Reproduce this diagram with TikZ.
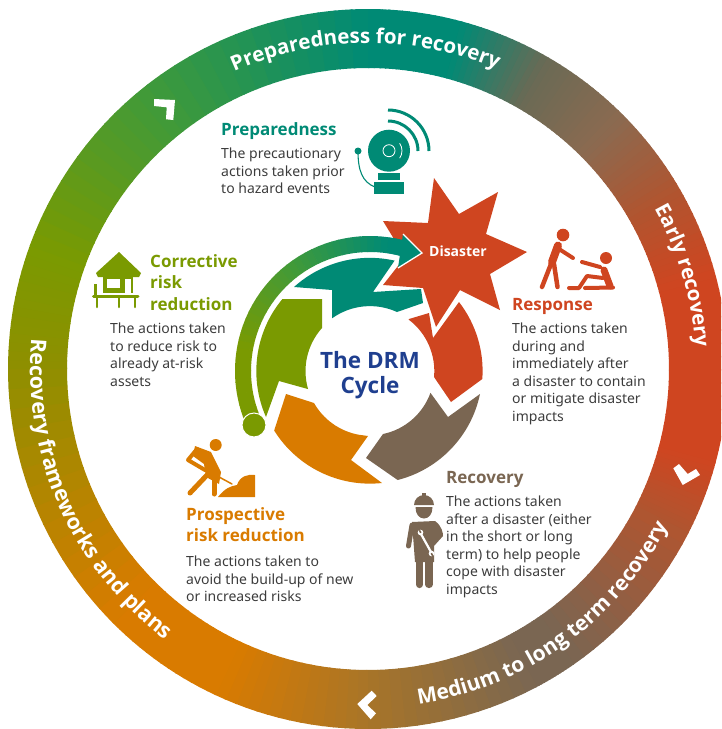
\documentclass[tikz,border=0pt]{standalone}
\usepackage{fontspec}
\setmainfont{Noto Sans}[BoldFont={Open Sans Bold}]
\usetikzlibrary{decorations.text}
\definecolor{cteal}{HTML}{008A75}
\definecolor{colive}{HTML}{7A9A01}
\definecolor{corange}{HTML}{D97B00}
\definecolor{cred}{HTML}{CF4520}
\definecolor{cbrown}{HTML}{7A6652}
\definecolor{cblue}{HTML}{1F3F8F}
\definecolor{cdark}{HTML}{3C3C3C}
\definecolor{cgreen}{HTML}{3F9A3A}
\definecolor{cgold}{HTML}{8F8F00}
\definecolor{crust}{HTML}{B05530}
\definecolor{cmidb}{HTML}{A87528}
\definecolor{cgrey}{HTML}{6A6A55}
\definecolor{cbr}{HTML}{8B6A50}
\newcommand\ringf{\fontsize{20.5}{25}\selectfont\bfseries}
\newcommand\ringg{\fontsize{21}{25}\selectfont\bfseries}
\newcommand\ringh{\fontsize{21.5}{25}\selectfont\bfseries}
\newcommand\Nn{14}
\tikzset{
 body/.style={font=\fontsize{14}{17.5}\selectfont,text=cdark,align=left,inner sep=0pt,anchor=north west,execute at begin node={\rule{0pt}{10pt}}},
 head/.style={font=\fontsize{17}{21.5}\selectfont\bfseries,align=left,inner sep=0pt,anchor=north west,execute at begin node={\rule{0pt}{12pt}}},
 ringtext/.style={decorate,decoration={text along path,text align=center,text color=white,text={#1}}},
 chev/.style={fill=white},
}
\begin{document}
\begin{tikzpicture}[x=1pt,y=-1pt]
\useasboundingbox (0,0) rectangle (721,729);
\clip (0,0) rectangle (721,729);
% ring
\begin{scope}[shift={(368,369)}]
\foreach \sa/\sb/\ca/\cb in {-15/15/cred/cred,15/27/cred/crust,27/55/crust/cbrown,55/62/cbrown/cbrown,62/90/cbrown/cmidb,90/115/cmidb/corange,115/135/corange/corange,135/180/corange/cgold,180/200/cgold/colive,200/232/colive/cgreen,232/270/cgreen/cteal,270/285/cteal/cteal,285/300/cteal/cgrey,300/315/cgrey/cbr,315/330/cbr/crust,330/345/crust/cred}{
 \foreach \t in {0,...,13}{
  \pgfmathsetmacro\s{\sa+(\sb-\sa)*\t/\Nn}
  \pgfmathsetmacro\e{\sa+(\sb-\sa)*(\t+1)/\Nn+0.25}
  \pgfmathsetmacro\p{100*(\t+0.5)/\Nn}
  \fill[color={\cb!\p!\ca}] (\s:360) arc[start angle=\s,end angle=\e,radius=360] -- (\e:301) arc[start angle=\e,end angle=\s,radius=301] -- cycle;
 }
}
\path[ringtext={|\ringf|Preparedness for recovery}] (225:326) arc[start angle=225,end angle=314,radius=326];
\path[ringtext={|\ringf|Early recovery}] (300:328) arc[start angle=300,end angle=387,radius=328];
\path[ringtext={|\ringg|Medium to long term recovery}] (100:339) arc[start angle=100,end angle=9,radius=339];
\path[ringtext={|\ringh|Recovery frameworks and plans}] (210:338) arc[start angle=210,end angle=102,radius=338];
\end{scope}
% chevrons
\fill[chev] (154,99) -- (175,100) -- (173.3,120) -- (166,119.3) -- (166.7,107.3) -- (154,106) -- cycle;
\fill[chev] (673.3,468.3) -- (679,464) -- (687.7,474) -- (696,469) -- (700,475) -- (682.7,485) -- cycle;
\fill[chev] (357.3,704) -- (371.7,690.7) -- (376.7,696) -- (367.3,705) -- (376,713.3) -- (370.7,719.3) -- cycle;
% cycle segments
\fill[colive] (266,417) arc[start angle=156.1,end angle=219.6,radius=113] -- (322,299) -- (322,328) arc[start angle=221.9,end angle=163.8,radius=64.5] -- (279,381) -- cycle;
\fill[corange] (286,394) -- (314,403) arc[start angle=150.3,end angle=100.6,radius=65] -- (368,436) -- (351,460) -- (382,483) arc[start angle=83.9,end angle=148,radius=113] -- cycle;
\fill[cbrown] (366,458) -- (383,434) arc[start angle=78.3,end angle=19.8,radius=64.3] -- (448,417) -- (480,394) arc[start angle=11.8,end angle=75.7,radius=112.5] -- cycle;
\fill[cred] (409,319) -- (429,313) -- (433,338) -- (459,302) arc[start angle=-37.8,end angle=4.1,radius=112.5] -- (451,402) -- (434,377) arc[start angle=5.4,end angle=-53.1,radius=64.3] -- cycle;
\fill[cteal] (294,287) arc[start angle=227.9,end angle=282.7,radius=113] -- (373,292) -- (421,289) -- (423,303) -- (397,312) arc[start angle=294.6,end angle=234.4,radius=64.9] -- (332,290) -- cycle;
% star
\fill[cred] (434,178) -- (459,214) -- (498,192) -- (486,234) -- (527,252) -- (490,274) -- (500,310) -- (460,290) -- (436,327) -- (423,288) -- (383,285) -- (405,257) -- (383,221) -- (428,223) -- cycle;
% outer arrow
\fill[cteal] (403,234) -- (422,253) -- (398,268) -- cycle;
\draw[white,line width=1.3pt] (403,234) -- (422,253) -- (398,268);
\begin{scope}[shift={(370,371)}]
\foreach \sa/\sb/\ca/\cb in {155/190/colive/colive,190/235/colive/cgreen,235/278/cgreen/cteal,278/287/cteal/cteal}{
 \foreach \t in {0,...,13}{
  \pgfmathsetmacro\s{\sa+(\sb-\sa)*\t/\Nn}
  \pgfmathsetmacro\e{\sa+(\sb-\sa)*(\t+1)/\Nn+0.25}
  \pgfmathsetmacro\p{100*(\t+0.5)/\Nn}
  \fill[color={\cb!\p!\ca}] (\s:135) arc[start angle=\s,end angle=\e,radius=135] -- (\e:119) arc[start angle=\e,end angle=\s,radius=119] -- cycle;
 }
}
\end{scope}
\filldraw[colive,draw=white,line width=1pt] (254,425) circle[radius=12];
% bell
\begin{scope}[cteal]
\fill (389,150.7) circle[radius=21];
\draw[white,line width=0.8pt] (389,150.7) circle[radius=6];
\draw[white,line width=0.8pt] (389,150.7) ++(-35:13) arc[start angle=-35,end angle=35,radius=13];
\fill (378,172.5) rectangle (400,180);
\fill (374,182) rectangle (404,194);
\draw[line width=3pt] (388,110) arc[start angle=-90,end angle=0,radius=41];
\draw[line width=3pt] (388,121) arc[start angle=-90,end angle=0,radius=30];
\fill (358,151) circle[radius=3.5];
\draw[line width=1.1pt] (358,151) .. controls (358,170) and (362,182) .. (375,187);
\end{scope}
% hut
\begin{scope}[colive]
\fill (119,252) -- (141,273) -- (139,277) -- (98,277) -- (96,273) -- cycle;
\fill (103,277) rectangle (133,293);
\fill[white] (107,279) rectangle (120,288);
\fill[white] (125,279) rectangle (131,293);
\draw[line width=3pt,line cap=round] (93.5,296.5) -- (138,296.5);
\draw[line width=2.5pt,line cap=round] (97,298) -- (97,307);
\draw[line width=2.5pt,line cap=round] (119,298) -- (119,307);
\draw[line width=2.5pt,line cap=round] (135,298) -- (135,307);
\draw[line width=2.2pt] (95.5,284) -- (95.5,295);
\end{scope}
% digger
\begin{scope}[corange,line cap=round,line join=round]
\fill (215.7,445) circle[radius=6];
\fill (195,446) -- (211,452) -- (221,472) -- (219,484) -- (206,477) -- (204,464) -- (193,456) -- cycle;
\draw[line width=4pt] (197,449) -- (188,460) -- (205,470);
\draw[line width=5pt] (208,474) -- (190,493);
\draw[line width=5pt] (214,476) -- (214,494);
\draw[line width=1.5pt] (208,471) -- (232,484);
\fill (218,497) .. controls (225,488) and (231,486) .. (237,485) .. controls (240,476) and (248,474) .. (255,475) -- (255,497) -- cycle;
\end{scope}
% worker
\begin{scope}[cbrown,line join=round]
\fill (414,505) arc[start angle=180,end angle=360,radius=10] -- cycle;
\fill (422,492.5) rectangle (426,497);
\fill (415.5,507) -- (432.5,507) .. controls (432.5,514) and (429,518.5) .. (424,518.5) .. controls (419,518.5) and (415.5,514) .. (415.5,507) -- cycle;
\fill (412,522) -- (435,521) .. controls (442,526) and (443,533) .. (443,536) -- (434,546) -- (434,562) -- (415,562) -- cycle;
\draw[line width=5pt,line cap=round] (412,525) -- (408.5,546);
\draw[line width=7.2pt,line cap=round] (419.5,555) -- (419.5,584.5);
\draw[line width=7.2pt,line cap=round] (429,555) -- (429,584.5);
\draw[white,line width=2.2pt] (421,534) -- (431,552);
\fill[white] (420.5,532.5) circle[radius=2.8];
\fill[white] (431.5,553.5) circle[radius=2.8];
\draw[line width=1.6pt] (419.4,530.2) -- (420.8,532.8);
\draw[line width=1.6pt] (432.7,555.8) -- (431.3,553.2);
\end{scope}
% rescuers
\begin{scope}[cred,line cap=round,line join=round]
\fill (563,235) circle[radius=6.3];
\draw[line width=8pt] (558,245.5) -- (552,262);
\draw[line width=4.5pt] (551,264) -- (542,287);
\draw[line width=4.5pt] (554,264) -- (557.5,287);
\draw[line width=4pt] (559,249) -- (573,258);
\fill (606,258) circle[radius=6];
\draw[line width=7pt] (604,270) -- (610,286);
\draw[line width=4pt] (600,267) -- (582,262);
\draw[line width=4pt] (569,288) -- (579,288) -- (587,276) -- (603,278);
\draw[line width=4pt] (585,288) -- (613,287.5);
\end{scope}
% texts
\node[inner sep=0pt,text=white,font=\fontsize{14}{17}\selectfont\bfseries] (tdis) at (458,251) {Disaster};
\node[inner sep=0pt,text=cblue,align=center,font=\fontsize{22.5}{25}\selectfont\bfseries] (tdrm) at (370,375) {The DRM\\Cycle};
\node[head,text=cteal] (hprep) at (221,122) {Preparedness};
\node[body] (bprep) at (221,148) {The precautionary\\actions taken prior\\to hazard events};
\node[head,text=colive] (hcor) at (150,254) {Corrective\\risk\\reduction};
\node[body] (bcor) at (110,323) {The actions taken\\to reduce risk to\\already at-risk\\assets};
\node[head,text=cred] (hres) at (512,298) {Response};
\node[body] (bres) at (512,323) {The actions taken\\during and\\immediately after\\a disaster to contain\\or mitigate disaster\\impacts};
\node[head,text=cbrown] (hrec) at (446,471) {Recovery};
\node[body] (brec) at (446,496) {The actions taken\\after a disaster (either\\in the short or long\\term) to help people\\cope with disaster\\impacts};
\node[head,text=corange] (hpro) at (186,507) {Prospective\\risk reduction};
\node[body] (bpro) at (186,556) {The actions taken to\\avoid the build-up of new\\or increased risks};
\end{tikzpicture}
\end{document}
